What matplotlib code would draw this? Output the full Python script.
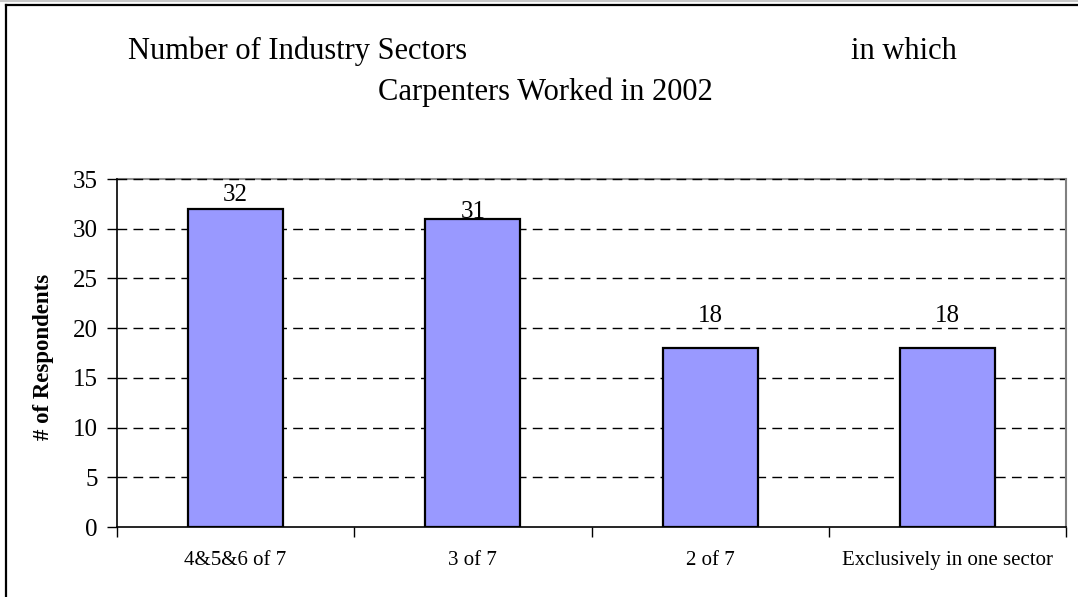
import matplotlib
matplotlib.use("Agg")
import matplotlib.pyplot as plt
from matplotlib.lines import Line2D

categories = ["4&5&6 of 7", "3 of 7", "2 of 7", "Exclusively in one sector"]
respondents = [32, 31, 18, 18]
y_ticks = [0, 5, 10, 15, 20, 25, 30, 35]

plt.rcParams["font.family"] = ["Liberation Serif", "DejaVu Serif"]

W, H = 1078, 597
fig = plt.figure(figsize=(W / 100, H / 100), dpi=100)
ax = fig.add_axes([117 / W, 70 / H, 949 / W, 348 / H])

x = list(range(len(categories)))
ax.bar(x, respondents, width=0.4, color="#9999FF",
       edgecolor="black", linewidth=1.6, zorder=3)

# value labels, each nudged a little above its bar
label_lift = [0.3, -0.45, 2.1, 2.1]
for xi, v, lift in zip(x, respondents, label_lift):
    ax.text(xi, v + lift, str(v), ha="center", va="bottom", fontsize=18,
            zorder=4)

ax.set_xlim(-0.5, len(categories) - 0.5)
ax.set_ylim(0, 35)
ax.set_yticks(y_ticks)
ax.tick_params(axis="y", labelsize=18, length=7, width=1, direction="out", pad=7)

# category boundaries carry the x tick marks; labels sit at bar centres
ax.set_xticks([i - 0.5 for i in range(len(categories) + 1)])
ax.set_xticklabels([])
ax.set_xticks(x, minor=True)
ax.set_xticklabels(categories, minor=True, fontsize=15)
ax.tick_params(axis="x", which="major", length=7, width=1, direction="out")
ax.tick_params(axis="x", which="minor", length=0, pad=17)

for yv in y_ticks[1:]:
    ax.axhline(yv, color="black", linewidth=1, linestyle=(0, (7, 4.5)),
               zorder=2, clip_on=False)

ax.spines["top"].set_color("#909090")
ax.spines["top"].set_linewidth(1.5)
ax.spines["top"].set_zorder(1)
ax.spines["right"].set_color("#808080")
ax.spines["right"].set_linewidth(1.5)
ax.spines["left"].set_linewidth(1.2)
ax.spines["bottom"].set_linewidth(1.2)

ax.set_ylabel("# of Respondents", fontsize=16.5, fontweight="bold")
ax.yaxis.set_label_coords(-63 / 949, 0.49)

fig.text(128 / W, 1 - 59 / H, "Number of Industry Sectors", fontsize=22,
         ha="left", va="baseline")
fig.text(957 / W, 1 - 59 / H, "in which", fontsize=22,
         ha="right", va="baseline")
fig.text(545 / W, 1 - 100 / H, "Carpenters Worked in 2002", fontsize=22,
         ha="center", va="baseline")

# outer frame of the chart area
fig.add_artist(Line2D([0, 1], [1 - 0.8 / H, 1 - 0.8 / H],
                      transform=fig.transFigure, color="#c8c8c8", linewidth=1.5))
fig.add_artist(Line2D([6 / W, 6 / W], [0, 1 - 5 / H],
                      transform=fig.transFigure, color="black", linewidth=1.6))
fig.add_artist(Line2D([6 / W, 1], [1 - 5 / H, 1 - 5 / H],
                      transform=fig.transFigure, color="black", linewidth=1.6))

fig.savefig("out.png", dpi=100, facecolor="white")
